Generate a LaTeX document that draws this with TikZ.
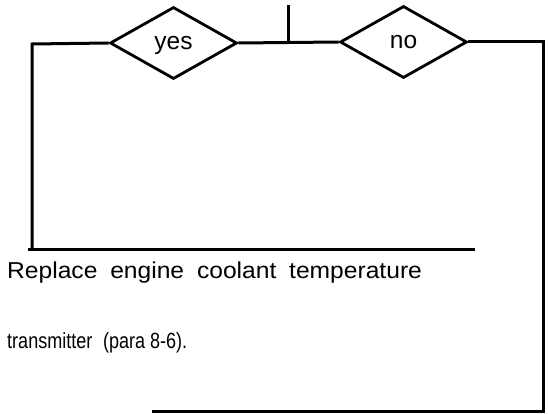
\documentclass[tikz,border=0pt]{standalone}
\usepackage{fontspec}
\setmainfont{Liberation Sans}
\usetikzlibrary{shapes.geometric}
\begin{document}
\begin{tikzpicture}[x=1pt,y=1pt,
  line/.style={line width=3pt},
  choice/.style={diamond, draw, line width=2.8pt, minimum width=127pt, minimum height=72pt, inner sep=0pt, text height=12.5pt, text depth=0pt, font=\fontsize{24.5}{28}\selectfont},
  txt/.style={inner sep=0pt, anchor=base west}]
\useasboundingbox (0,0) rectangle (548,413);
\node[choice] (yes) at (173.5,370) {yes};
\node[choice] (no) at (403.5,371) {no};
\coordinate (stubtop) at (288,408);
\coordinate (stubjoin) at (288,370.5);
\coordinate (lefttop) at (32,369);
\coordinate (leftbot) at (32,164);
\coordinate (hlL) at (28,164);
\coordinate (hlR) at (475,164);
\coordinate (righttop) at (543,371);
\coordinate (rightbot) at (543,2);
\coordinate (botL) at (152,2);
\draw[line] (stubtop) -- (stubjoin);
\draw[line] (yes.east) -- (no.west);
\draw[line] (yes.west) -- (lefttop) -- (leftbot);
\draw[line] (hlL) -- (hlR);
\draw[line] (no.east) -- (righttop) -- (rightbot) -- (botL);
\node[txt] (t1) at (7,135) {\scalebox{1.07}[1]{\fontsize{23}{27}\selectfont Replace\hspace{12pt}engine\hspace{12pt}coolant\hspace{12pt}temperature}};
\node[txt] (t2) at (7,65) {\scalebox{0.82}[1]{\fontsize{22}{26}\selectfont transmitter\hspace{13pt}(para 8-6).}};
\end{tikzpicture}
\end{document}
